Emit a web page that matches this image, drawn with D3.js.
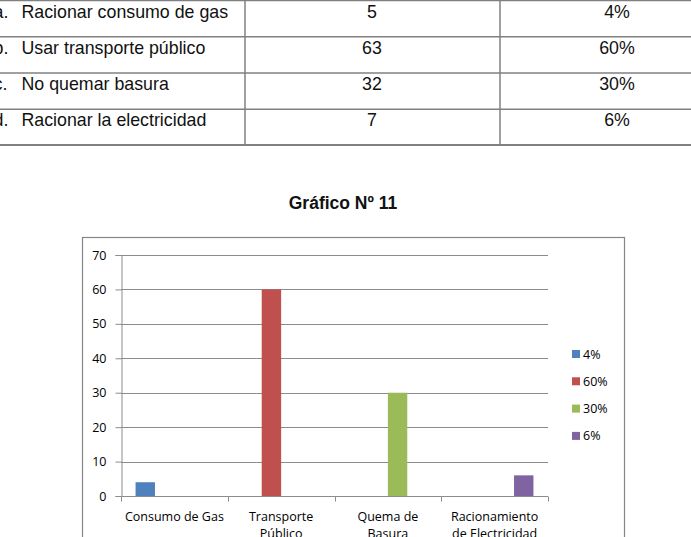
<!DOCTYPE html>
<html lang="es">
<head>
  <meta charset="UTF-8">
  <title>Gráfico Nº 11</title>
  <style>
    html, body {
      margin: 0;
      overflow: hidden;
      width: 100%;
      height: 100%;
      background: white;
    }
    svg {
      position: absolute;
      top: 0;
      left: 0;
    }
  </style>
</head>
<body>
  <svg width="691" height="537"></svg>
</body>
<script src="https://d3js.org/d3.v7.min.js"></script>
<script type="text/javascript">
  // table data
  const rowLetters = ['a.', 'b.', 'c.', 'd.']
  const rowLabels = ['Racionar consumo de gas', 'Usar transporte público', 'No quemar basura', 'Racionar la electricidad']
  const rowCounts = ['5', '63', '32', '7']
  const rowPercents = ['4%', '60%', '30%', '6%']

  // chart data
  const title = 'Gráfico Nº 11'
  const categories = ['Consumo de Gas', 'Transporte Público', 'Quema de Basura', 'Racionamiento de Electricidad']
  const categoryLines = [['Consumo de Gas'], ['Transporte', 'Público'], ['Quema de', 'Basura'], ['Racionamiento', 'de Electricidad']]
  const seriesNames = ['4%', '60%', '30%', '6%']
  const values = [4, 60, 30, 6]
  const yTicks = [0, 10, 20, 30, 40, 50, 60, 70]
  const colors = ['#4F81BD', '#C0504D', '#9BBB59', '#8064A2']

  const svg = d3.select('svg')
  const tableFont = '"Liberation Sans", Arial, sans-serif'
  const chartFont = '"Open Sans", Calibri, sans-serif'

  // table
  const rowY = d3.scaleBand().domain(d3.range(rowLabels.length)).range([0, 145])
  const tbl = svg.append('g')

  tbl.selectAll('line.h')
    .data(d3.range(rowLabels.length + 1))
    .enter()
    .append('line')
    .attr('x1', 0)
    .attr('x2', 691)
    .attr('y1', i => i < rowLabels.length ? rowY(i) + 0.5 : 145)
    .attr('y2', i => i < rowLabels.length ? rowY(i) + 0.5 : 145)
    .attr('stroke', '#808080')
    .attr('stroke-width', i => i === rowLabels.length ? 2.2 : 1.5)

  tbl.selectAll('line.v')
    .data([245, 500])
    .enter()
    .append('line')
    .attr('x1', d => d)
    .attr('x2', d => d)
    .attr('y1', 0)
    .attr('y2', 145)
    .attr('stroke', '#808080')
    .attr('stroke-width', 1.5)

  const rows = tbl.selectAll('g.row')
    .data(d3.range(rowLabels.length))
    .enter()
    .append('g')
    .attr('transform', i => `translate(0,${rowY(i) + 17.5})`)
    .style('font-family', tableFont)
    .style('font-size', '17.8px')
    .attr('fill', '#111')

  rows.append('text').attr('x', -6.5).text(i => rowLetters[i])
  rows.append('text').attr('x', 21.5).text(i => rowLabels[i])
  rows.append('text').attr('x', 372).attr('text-anchor', 'middle').text(i => rowCounts[i])
  rows.append('text').attr('x', 617).attr('text-anchor', 'middle').text(i => rowPercents[i])

  // title
  svg.append('text')
    .attr('x', 343)
    .attr('y', 208.5)
    .attr('text-anchor', 'middle')
    .style('font-family', tableFont)
    .style('font-size', '17.5px')
    .style('font-weight', 'bold')
    .attr('fill', '#111')
    .text(title)

  // chart frame
  svg.append('rect')
    .attr('x', 82.5)
    .attr('y', 237.5)
    .attr('width', 542)
    .attr('height', 320)
    .attr('fill', 'white')
    .attr('stroke', '#868686')
    .attr('stroke-width', 1.2)

  const plot = { left: 121, right: 548, top: 255, bottom: 496 }

  const x0 = d3.scaleBand().domain(categories).range([plot.left, plot.right])
  const x1 = d3.scaleBand().domain(seriesNames).range([0, x0.bandwidth()]).paddingOuter(0.75)
  const y = d3.scaleLinear().domain([0, 70]).range([plot.bottom, plot.top])

  // gridlines
  svg.append('g')
    .selectAll('line')
    .data(yTicks.filter(t => t > 0))
    .enter()
    .append('line')
    .attr('x1', plot.left)
    .attr('x2', plot.right)
    .attr('y1', t => Math.round(y(t)) + 0.5)
    .attr('y2', t => Math.round(y(t)) + 0.5)
    .attr('stroke', '#8c8c8c')
    .attr('stroke-width', 1)

  // y axis
  const yAxis = svg.append('g')
    .attr('transform', `translate(${plot.left + 0.5},0)`)
    .call(d3.axisLeft(y).tickValues(yTicks).tickSize(6).tickPadding(9))
  yAxis.select('.domain').attr('stroke', '#8c8c8c')
  yAxis.selectAll('.tick line').attr('stroke', '#8c8c8c')
  yAxis.selectAll('.tick text')
    .style('font-family', chartFont)
    .style('font-size', '12.5px')
    .attr('fill', '#000')

  // bars
  svg.append('g')
    .selectAll('rect')
    .data(values)
    .enter()
    .append('rect')
    .attr('x', (v, i) => x0(categories[i]) + x1(seriesNames[i]))
    .attr('y', v => y(v))
    .attr('width', x1.bandwidth())
    .attr('height', v => y(0) - y(v))
    .attr('fill', (v, i) => colors[i])

  // x axis
  const xAxis = svg.append('g')
    .attr('transform', `translate(0,${plot.bottom + 0.5})`)
  xAxis.append('line')
    .attr('x1', plot.left)
    .attr('x2', plot.right)
    .attr('stroke', '#8c8c8c')
  xAxis.selectAll('line.tick')
    .data(categories.map(c => x0(c)).concat([plot.right]))
    .enter()
    .append('line')
    .attr('x1', d => Math.round(d) + 0.5)
    .attr('x2', d => Math.round(d) + 0.5)
    .attr('y1', 0)
    .attr('y2', 5)
    .attr('stroke', '#8c8c8c')

  const labels = xAxis.selectAll('text')
    .data(categories)
    .enter()
    .append('text')
    .attr('x', c => x0(c) + x0.bandwidth() / 2)
    .attr('y', 24)
    .attr('text-anchor', 'middle')
    .style('font-family', chartFont)
    .style('font-size', '12.5px')
    .attr('fill', '#000')
  labels.selectAll('tspan')
    .data((c, i) => categoryLines[i])
    .enter()
    .append('tspan')
    .attr('x', function () { return this.parentNode.getAttribute('x') })
    .attr('dy', (d, j) => j === 0 ? 0 : 17)
    .text(d => d)

  // legend
  const legend = svg.append('g')
    .selectAll('g')
    .data(seriesNames)
    .enter()
    .append('g')
    .attr('transform', (d, i) => `translate(572,${354 + i * 27.3})`)
  legend.append('rect')
    .attr('x', 0)
    .attr('y', -4)
    .attr('width', 8)
    .attr('height', 8)
    .attr('fill', (d, i) => colors[i])
  legend.append('text')
    .attr('x', 11)
    .attr('y', 4.5)
    .style('font-family', chartFont)
    .style('font-size', '12.5px')
    .attr('fill', '#000')
    .text(d => d)
</script>
</html>
